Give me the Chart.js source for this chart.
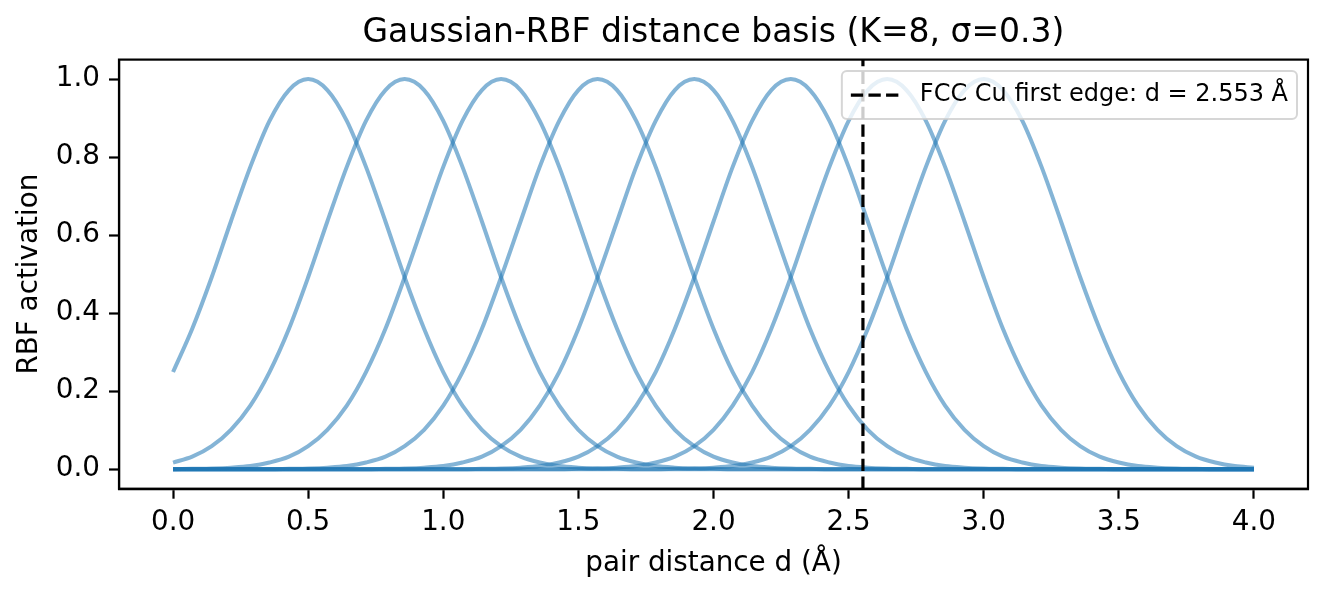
<!DOCTYPE html>
<html>
<head>
<meta charset="utf-8">
<title>Gaussian-RBF distance basis</title>
<script src="https://cdn.jsdelivr.net/npm/chart.js@4.4.1/dist/chart.umd.min.js"></script>
<style>
  html, body { margin: 0; padding: 0; background: #fff; }
  canvas { display: block; }
</style>
</head>
<body>
<canvas id="chart-rbf" width="1328" height="597"></canvas>
<script>
// ====== data ======
// pair distance grid (Å)
const distances = [
  0, 0.071, 0.143, 0.214, 0.286, 0.357, 0.429, 0.5, 0.571, 0.643, 0.714, 0.786, 0.857, 0.929,
  1, 1.071, 1.143, 1.214, 1.286, 1.357, 1.429, 1.5, 1.571, 1.643, 1.714, 1.786, 1.857, 1.929,
  2, 2.071, 2.143, 2.214, 2.286, 2.357, 2.429, 2.5, 2.571, 2.643, 2.714, 2.786, 2.857, 2.929,
  3, 3.071, 3.143, 3.214, 3.286, 3.357, 3.429, 3.5, 3.571, 3.643, 3.714, 3.786, 3.857, 3.929, 4
];

// activation of each RBF (centres 0.5 ... 3.0)
const rbf1 = [
  0.249, 0.36, 0.492, 0.635, 0.775, 0.893, 0.972, 1, 0.972, 0.893, 0.775, 0.635, 0.492, 0.36,
  0.249, 0.163, 0.101, 0.059, 0.032, 0.017, 0.008, 0.004, 0.002, 0.001,
  0, 0, 0, 0, 0, 0, 0, 0, 0, 0,
  0, 0, 0, 0, 0, 0, 0, 0, 0, 0,
  0, 0, 0, 0, 0, 0, 0, 0, 0, 0,
  0, 0, 0
];
const rbf2 = [
  0.017, 0.032, 0.059, 0.101, 0.163, 0.249, 0.36, 0.492, 0.635, 0.775, 0.893, 0.972, 1, 0.972,
  0.893, 0.775, 0.635, 0.492, 0.36, 0.249, 0.163, 0.101, 0.059, 0.032, 0.017, 0.008, 0.004, 0.002, 0.001,
  0, 0, 0, 0, 0, 0, 0, 0, 0, 0,
  0, 0, 0, 0, 0, 0, 0, 0, 0, 0,
  0, 0, 0, 0, 0, 0, 0, 0
];
const rbf3 = [
  0,
  0.001, 0.002, 0.004, 0.008, 0.017, 0.032, 0.059, 0.101, 0.163, 0.249, 0.36, 0.492, 0.635, 0.775, 0.893, 0.972,
  1, 0.972, 0.893, 0.775, 0.635, 0.492, 0.36, 0.249, 0.163, 0.101, 0.059, 0.032, 0.017, 0.008, 0.004, 0.002, 0.001,
  0, 0, 0, 0, 0, 0, 0, 0, 0, 0,
  0, 0, 0, 0, 0, 0, 0, 0, 0, 0,
  0, 0, 0
];
const rbf4 = [
  0, 0, 0, 0, 0, 0,
  0.001, 0.002, 0.004, 0.008, 0.017, 0.032, 0.059, 0.101, 0.163, 0.249, 0.36, 0.492, 0.635, 0.775, 0.893, 0.972,
  1, 0.972, 0.893, 0.775, 0.635, 0.492, 0.36, 0.249, 0.163, 0.101, 0.059, 0.032, 0.017, 0.008, 0.004, 0.002, 0.001,
  0, 0, 0, 0, 0, 0, 0, 0, 0, 0,
  0, 0, 0, 0, 0, 0, 0, 0
];
const rbf5 = [
  0, 0, 0, 0, 0, 0, 0, 0, 0, 0,
  0,
  0.001, 0.002, 0.004, 0.008, 0.017, 0.032, 0.059, 0.101, 0.163, 0.249, 0.36, 0.492, 0.635, 0.775, 0.893, 0.972,
  1, 0.972, 0.893, 0.775, 0.635, 0.492, 0.36, 0.249, 0.163, 0.101, 0.059, 0.032, 0.017, 0.008, 0.004, 0.002, 0.001,
  0, 0, 0, 0, 0, 0, 0, 0, 0, 0,
  0, 0, 0
];
const rbf6 = [
  0, 0, 0, 0, 0, 0, 0, 0, 0, 0,
  0, 0, 0, 0, 0, 0,
  0.001, 0.002, 0.004, 0.008, 0.017, 0.032, 0.059, 0.101, 0.163, 0.249, 0.36, 0.492, 0.635, 0.775, 0.893, 0.972,
  1, 0.972, 0.893, 0.775, 0.635, 0.492, 0.36, 0.249, 0.163, 0.101, 0.059, 0.032, 0.017, 0.008, 0.004, 0.002, 0.001,
  0, 0, 0, 0, 0, 0, 0, 0
];
const rbf7 = [
  0, 0, 0, 0, 0, 0, 0, 0, 0, 0,
  0, 0, 0, 0, 0, 0, 0, 0, 0, 0,
  0,
  0.001, 0.002, 0.004, 0.008, 0.017, 0.032, 0.059, 0.101, 0.163, 0.249, 0.36, 0.492, 0.635, 0.775, 0.893, 0.972,
  1, 0.972, 0.893, 0.775, 0.635, 0.492, 0.36, 0.249, 0.163, 0.101, 0.059, 0.032, 0.017, 0.008, 0.004, 0.002, 0.001,
  0, 0, 0
];
const rbf8 = [
  0, 0, 0, 0, 0, 0, 0, 0, 0, 0,
  0, 0, 0, 0, 0, 0, 0, 0, 0, 0,
  0, 0, 0, 0, 0, 0,
  0.001, 0.002, 0.004, 0.008, 0.017, 0.032, 0.059, 0.101, 0.163, 0.249, 0.36, 0.492, 0.635, 0.775, 0.893, 0.972,
  1, 0.972, 0.893, 0.775, 0.635, 0.492, 0.36, 0.249, 0.163, 0.101, 0.059, 0.032, 0.017, 0.008, 0.004
];

// FCC Cu nearest-neighbour distance
const edgeDistance = 2.553;
const edgeLabel = 'FCC Cu first edge: d = 2.553 Å';

// tick labels
const xTicks = [0, 0.5, 1, 1.5, 2, 2.5, 3, 3.5, 4];
const yTicks = [0, 0.2, 0.4, 0.6, 0.8, 1];

// axis limits
const xMin = -0.2, xMax = 4.2;
const yMin = -0.05, yMax = 1.05;

// ====== styles ======
const FONT = '"DejaVu Sans", "Liberation Sans", sans-serif';
const curveColor = 'rgba(31, 119, 180, 0.55)';

const curves = [rbf1, rbf2, rbf3, rbf4, rbf5, rbf6, rbf7, rbf8];

const curveSets = curves.map((ys, k) => ({
  label: 'RBF ' + (k + 1),
  data: distances.map((d, i) => ({ x: d, y: ys[i] })),
  borderColor: curveColor,
  borderWidth: 4,
  pointRadius: 0,
  cubicInterpolationMode: 'monotone',
  fill: false,
  order: 1
}));

const edgeSet = {
  label: edgeLabel,
  data: [{ x: edgeDistance, y: yMin }, { x: edgeDistance, y: yMax }],
  borderColor: '#000',
  borderWidth: 3.2,
  borderDash: [12.3, 5.3],
  pointRadius: 0,
  fill: false,
  order: 0
};

// box round the plot + legend inside the top right corner (matplotlib style)
const frameAndLegend = {
  id: 'frameAndLegend',
  afterDatasetsDraw(chart) {
    const { ctx, chartArea: a } = chart;
    ctx.save();
    ctx.strokeStyle = '#000';
    ctx.lineWidth = 2.2;
    ctx.setLineDash([]);
    ctx.strokeRect(a.left, a.top, a.right - a.left, a.bottom - a.top);

    ctx.font = '24px ' + FONT;
    const tw = ctx.measureText(edgeLabel).width;
    const boxR = a.right - 11;
    const boxT = a.top + 11.5;
    const boxW = tw + 87;
    const boxH = 48;
    const boxL = boxR - boxW;

    ctx.beginPath();
    ctx.roundRect(boxL, boxT, boxW, boxH, 5);
    ctx.fillStyle = 'rgba(255, 255, 255, 0.8)';
    ctx.fill();
    ctx.strokeStyle = 'rgba(204, 204, 204, 0.8)';
    ctx.lineWidth = 2;
    ctx.stroke();

    const midY = boxT + 24;
    ctx.beginPath();
    ctx.setLineDash([12.3, 5.3]);
    ctx.strokeStyle = '#000';
    ctx.lineWidth = 3.2;
    ctx.moveTo(boxL + 9, midY);
    ctx.lineTo(boxL + 57, midY);
    ctx.stroke();

    ctx.setLineDash([]);
    ctx.fillStyle = '#000';
    ctx.textBaseline = 'middle';
    ctx.textAlign = 'left';
    ctx.fillText(edgeLabel, boxL + 78, midY);
    ctx.restore();
  }
};

const ctx = document.getElementById('chart-rbf');

new Chart(ctx, {
  type: 'line',
  data: { datasets: [edgeSet, ...curveSets] },
  options: {
    responsive: false,
    animation: false,
    devicePixelRatio: 1,
    layout: { padding: { left: 0, right: 20, top: 0, bottom: 0 } },
    plugins: {
      legend: { display: false },
      tooltip: { enabled: false },
      title: {
        display: true,
        fullSize: false, // centre over the plot area, not the whole canvas
        text: 'Gaussian-RBF distance basis (K=8, σ=0.3)',
        color: '#000',
        font: { family: FONT, size: 33, weight: 'normal' },
        padding: { top: 14, bottom: 6 }
      }
    },
    scales: {
      x: {
        type: 'linear',
        min: xMin,
        max: xMax,
        afterBuildTicks: s => { s.ticks = xTicks.map(v => ({ value: v })); },
        afterFit: s => { s.height = 108.3; },
        grid: { drawOnChartArea: false, drawTicks: true, tickLength: 10, tickWidth: 2.2, tickColor: '#000' },
        border: { display: true, color: '#000', width: 2.2 },
        ticks: {
          color: '#000',
          font: { family: FONT, size: 27.8 },
          padding: 7,
          maxRotation: 0,
          autoSkip: false,
          callback: v => v.toFixed(1)
        },
        title: {
          display: true,
          text: 'pair distance d (Å)',
          color: '#000',
          font: { family: FONT, size: 27.8 },
          padding: { top: 0, bottom: 17 }
        }
      },
      y: {
        type: 'linear',
        min: yMin,
        max: yMax,
        afterBuildTicks: s => { s.ticks = yTicks.map(v => ({ value: v })); },
        afterFit: s => { s.width = 119; },
        grid: { drawOnChartArea: false, drawTicks: true, tickLength: 10, tickWidth: 2.2, tickColor: '#000' },
        border: { display: true, color: '#000', width: 2.2 },
        ticks: {
          color: '#000',
          font: { family: FONT, size: 27.8 },
          padding: 9,
          autoSkip: false,
          callback: v => v.toFixed(1)
        },
        title: {
          display: true,
          text: 'RBF activation',
          color: '#000',
          font: { family: FONT, size: 27.8 },
          padding: { top: 13, bottom: 0 }
        }
      }
    }
  },
  plugins: [frameAndLegend]
});
</script>
</body>
</html>
